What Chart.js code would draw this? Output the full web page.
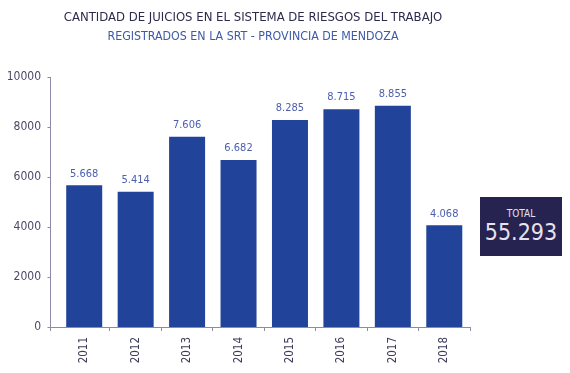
<!DOCTYPE html>
<html><head><meta charset="utf-8">
<script src="https://cdn.jsdelivr.net/npm/chart.js@4"></script>
<style>
html,body{margin:0;padding:0;background:#fff;}
#wrap{position:relative;width:570px;height:373px;overflow:hidden;}
canvas{position:absolute;left:0;top:0;}
.t{position:absolute;left:0;width:506px;text-align:center;font-family:"Liberation Sans Narrow","DejaVu Sans Condensed",sans-serif;white-space:nowrap;}
#t1{top:9px;font-size:13px;color:#2b2a4c;}
#t2{top:29px;font-size:12.3px;color:#3d5aa6;}
#box{position:absolute;left:480px;top:197px;width:82px;height:59px;background:#272350;color:#e6e2ee;text-align:center;font-family:"Liberation Sans Narrow","DejaVu Sans Condensed",sans-serif;}
#box .a{position:absolute;top:11px;width:100%;font-size:10px;}
#box .b{position:absolute;top:22px;width:100%;font-size:23px;}
</style></head>
<body><div id="wrap">
<canvas id="c" width="570" height="373"></canvas>
<div class="t" id="t1">CANTIDAD DE JUICIOS EN EL SISTEMA DE RIESGOS DEL TRABAJO</div>
<div class="t" id="t2">REGISTRADOS EN LA SRT - PROVINCIA DE MENDOZA</div>
<div id="box"><div class="a">TOTAL</div><div class="b">55.293</div></div>
</div>
<script>
const years = ["2011","2012","2013","2014","2015","2016","2017","2018"];
const juicios = [5668, 5414, 7606, 6682, 8285, 8715, 8855, 4068];
const yTicks = [0, 2000, 4000, 6000, 8000, 10000];

const FONT = '"Liberation Sans Narrow","DejaVu Sans Condensed",sans-serif';
const AXIS = '#8e8aa6';

const fmt = v => v.toLocaleString('de-DE');

const decor = {
  id: 'decor',
  afterDatasetsDraw(chart) {
    const ctx = chart.ctx, y = chart.scales.y, x = chart.scales.x;
    const ax = 50.5;
    const y0 = y.getPixelForValue(0);
    ctx.save();
    ctx.strokeStyle = AXIS; ctx.lineWidth = 1;
    ctx.beginPath();
    ctx.moveTo(ax, y.getPixelForValue(10000)); ctx.lineTo(ax, y0 + 4);
    yTicks.forEach(v => { const p = Math.round(y.getPixelForValue(v)) + 0.5; ctx.moveTo(ax - 3, p); ctx.lineTo(ax, p); });
    ctx.moveTo(ax, Math.round(y0) + 0.5); ctx.lineTo(x.right, Math.round(y0) + 0.5);
    ctx.stroke();
    const meta = chart.getDatasetMeta(0);
    ctx.fillStyle = '#4b5fae';
    ctx.font = '11px ' + FONT;
    ctx.textAlign = 'center'; ctx.textBaseline = 'bottom';
    meta.data.forEach((bar, i) => {
      ctx.fillText(fmt(juicios[i]), bar.x, bar.y - 6);
    });
    ctx.restore();
  }
};

new Chart(document.getElementById('c'), {
  type: 'bar',
  data: {
    labels: years,
    datasets: [{
      data: juicios,
      backgroundColor: '#21449a',
      borderWidth: 0,
      barPercentage: 0.7,
      categoryPercentage: 1.0
    }]
  },
  options: {
    responsive: false,
    animation: false,
    devicePixelRatio: 1,
    layout: { padding: { top: 77, right: 100, left: 0, bottom: 0 } },
    plugins: { legend: { display: false }, tooltip: { enabled: false } },
    scales: {
      y: {
        min: 0, max: 10000,
        afterFit(s) { s.width = 58.5; },
        afterBuildTicks(s) { s.ticks = yTicks.map(v => ({ value: v })); },
        border: { display: false },
        grid: { display: false, drawTicks: false },
        ticks: { padding: 17.5, color: '#4b4868', font: { family: FONT, size: 12 }, callback: v => String(v) }
      },
      x: {
        afterFit(s) { s.height = 46; },
        border: { display: false },
        grid: {
          offset: true, drawOnChartArea: false, tickLength: 4,
          color: c => c.index === 0 ? 'rgba(0,0,0,0)' : AXIS
        },
        ticks: { minRotation: 90, maxRotation: 90, padding: 6, color: '#3e3d5c', font: { family: FONT, size: 11.5 } }
      }
    }
  },
  plugins: [decor]
});
</script>
</body></html>
